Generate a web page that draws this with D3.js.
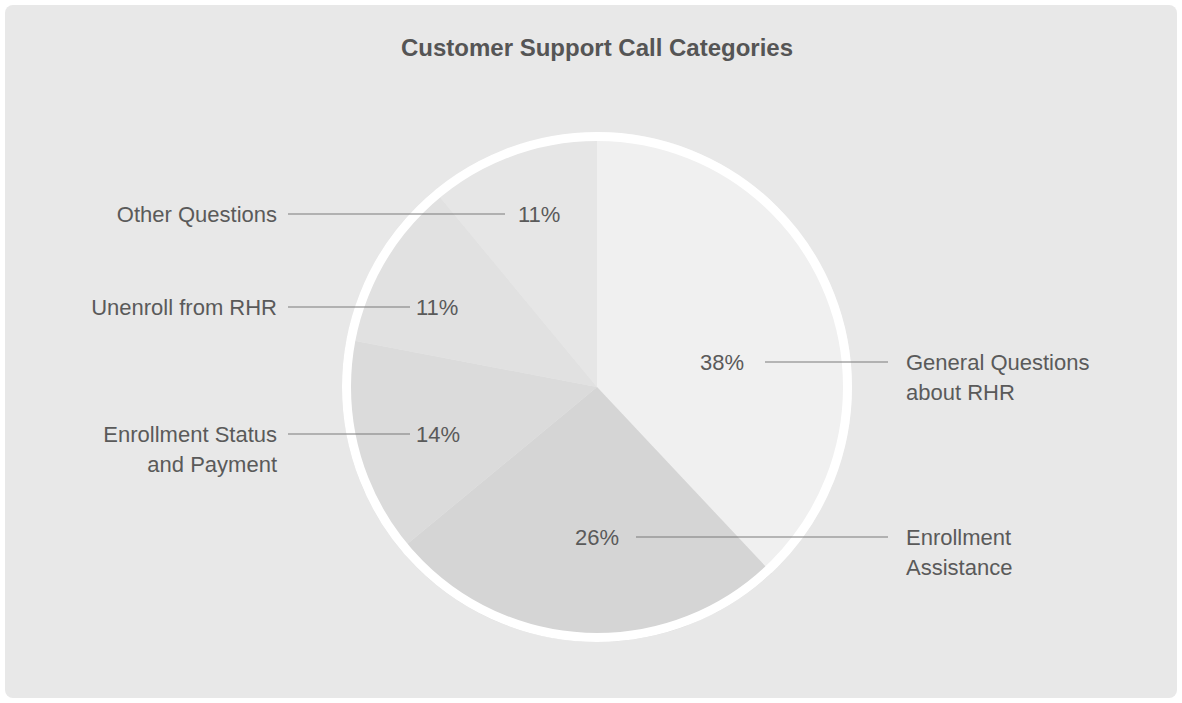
<!DOCTYPE html>
<html>
<head>
<meta charset="utf-8">
<script src="https://cdn.jsdelivr.net/npm/d3@7"></script>
<style>
  html, body { margin: 0; padding: 0; background: #ffffff; }
  svg { display: block; }
  text { font-family: "Liberation Sans", Arial, sans-serif; fill: #5a5a5a; }
</style>
</head>
<body>
<svg id="chart" width="1182" height="703"></svg>
<script>
// ---- Data ----
const categories = [
  "General Questions about RHR",
  "Enrollment Assistance",
  "Enrollment Status and Payment",
  "Unenroll from RHR",
  "Other Questions"
];
const labelLines = [
  ["General Questions", "about RHR"],
  ["Enrollment", "Assistance"],
  ["Enrollment Status", "and Payment"],
  ["Unenroll from RHR"],
  ["Other Questions"]
];
const values = [38, 26, 14, 11, 11];
const title = "Customer Support Call Categories";

// ---- Layout / styles ----
const W = 1182, H = 703;
const cx = 597, cy = 387, R = 255, ringW = 9;
const sliceColors = ["#f0f0f0", "#d5d5d5", "#dbdbdb", "#e1e1e1", "#e6e6e6"];
const labelLayout = [
  { side: "right", y: 362, pctX: 700, lineX1: 765, lineX2: 888, textX: 906 },
  { side: "right", y: 537, pctX: 575, lineX1: 636, lineX2: 888, textX: 906 },
  { side: "left",  y: 434, pctX: 416, lineX1: 288, lineX2: 410, textX: 277 },
  { side: "left",  y: 307, pctX: 416, lineX1: 288, lineX2: 410, textX: 277 },
  { side: "left",  y: 214, pctX: 518, lineX1: 288, lineX2: 505, textX: 277 }
];

const svg = d3.select("#chart");

svg.append("rect")
  .attr("x", 5).attr("y", 5).attr("width", W - 10).attr("height", H - 10)
  .attr("rx", 8).attr("ry", 8)
  .attr("fill", "#e8e8e8");

svg.append("text")
  .attr("x", 597).attr("y", 56)
  .attr("text-anchor", "middle")
  .style("font-size", "24px").style("font-weight", "bold")
  .style("fill", "#555555")
  .text(title);

const pie = d3.pie().sort(null).value(d => d)(values);
const arc = d3.arc().innerRadius(0).outerRadius(R);

const g = svg.append("g").attr("transform", `translate(${cx},${cy})`);
g.selectAll("path.slice").data(pie).enter().append("path")
  .attr("class", "slice")
  .attr("d", arc)
  .attr("fill", (d, i) => sliceColors[i]);

g.append("circle").attr("r", R - ringW / 2)
  .attr("fill", "none").attr("stroke", "#ffffff").attr("stroke-width", ringW);

const total = d3.sum(values);
const lab = svg.append("g");
pie.forEach((d, i) => {
  const L = labelLayout[i];
  lab.append("line")
    .attr("x1", L.lineX1).attr("x2", L.lineX2)
    .attr("y1", L.y).attr("y2", L.y)
    .attr("stroke", "#7a7a7a").attr("stroke-width", 1.2);
  lab.append("text")
    .attr("x", L.pctX).attr("y", L.y + 8)
    .style("font-size", "22px")
    .text(Math.round(d.value / total * 100) + "%");
  const t = lab.append("text")
    .attr("x", L.textX).attr("y", L.y + 8)
    .attr("text-anchor", L.side === "left" ? "end" : "start")
    .style("font-size", "22px");
  labelLines[i].forEach((s, k) => {
    t.append("tspan").attr("x", L.textX).attr("dy", k === 0 ? 0 : 30).text(s);
  });
});
</script>
</body>
</html>
